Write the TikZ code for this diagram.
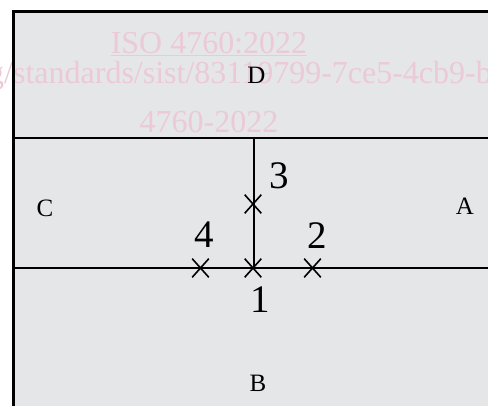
\documentclass[tikz,border=0pt]{standalone}
\usepackage{fontspec}
\setmainfont{Liberation Serif}
\usetikzlibrary{shapes.misc}
\definecolor{bggray}{RGB}{229,230,232}
\definecolor{wmpink}{RGB}{236,202,213}
\begin{document}
\begin{tikzpicture}[x=1pt,y=-1pt,
  xmark/.style={cross out, draw=black, line width=1.6pt, minimum width=15pt, minimum height=17pt, inner sep=0pt},
  lbl/.style={font=\fontsize{25}{25}\selectfont, inner sep=0pt},
  num/.style={font=\fontsize{39}{39}\selectfont, inner sep=0pt},
  wm/.style={text=wmpink, font=\fontsize{32}{32}\selectfont, inner sep=0pt},
  frame/.style={line width=3pt, draw=black},
  divider/.style={line width=2.8pt, draw=black}]
\useasboundingbox (0,0) rectangle (488,405);
\clip (0,0) rectangle (488,405);
\fill[bggray] (13,11) rectangle (520,440);
% watermark
\node[wm, anchor=base] (wm1) at (209,53) {\underline{ISO 4760:2022}};
\node[wm, anchor=base west] (wm2) at (-12,83) {g/standards/sist/83119799-7ce5-4cb9-b};
\node[wm, anchor=base] (wm3) at (209,132) {4760-2022};
% frame
\draw[frame] (520,11) -- (13,11) -- (13,440);
% coordinates
\coordinate (L1) at (13,138);
\coordinate (R1) at (520,138);
\coordinate (L2) at (13,268);
\coordinate (R2) at (520,268);
\coordinate (T) at (254,138);
\coordinate (M) at (254,268);
\draw[divider] (L1) -- (R1);
\draw[divider] (L2) -- (R2);
\draw[divider] (T) -- (M);
% crosses
\node[xmark] (x3) at (253,204) {};
\node[xmark] (x4) at (200.5,268) {};
\node[xmark] (x1) at (253,268) {};
\node[xmark] (x2) at (312.5,268) {};
% labels
\node[lbl] (D) at (256.5,75) {D};
\node[lbl] (C) at (45,208) {C};
\node[lbl] (A) at (465,206) {A};
\node[lbl] (B) at (258,383) {B};
\node[num] (n3) at (279,176) {3};
\node[num] (n4) at (204,235) {4};
\node[num] (n2) at (317,236) {2};
\node[num] (n1) at (260.5,300) {1};
\end{tikzpicture}
\end{document}
